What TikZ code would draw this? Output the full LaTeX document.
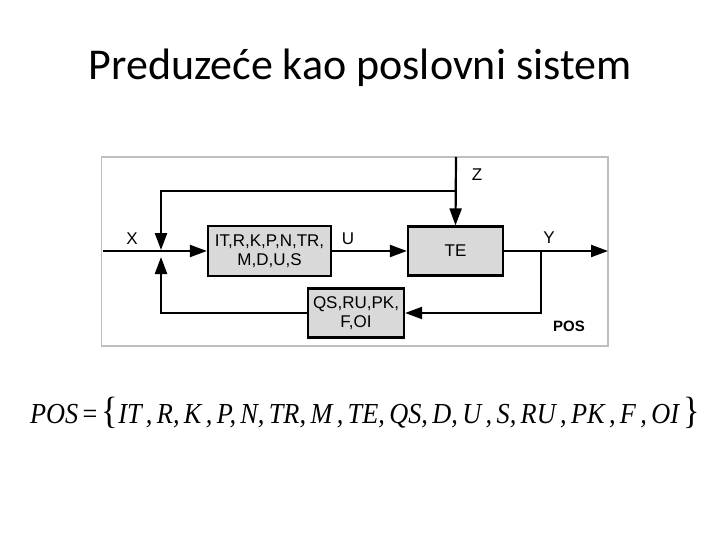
\documentclass[tikz,border=0pt]{standalone}
\usepackage{fontspec}
\usepackage{graphicx}
\setmainfont{Liberation Sans}
\newfontfamily\titlefont{Carlito}
\newfontfamily\formfont{Liberation Serif}
\usetikzlibrary{arrows.meta}
\definecolor{boxgray}{HTML}{D9D9D9}
\definecolor{framegray}{HTML}{BFBFBF}
\begin{document}
\begin{tikzpicture}[x=1pt,y=-1pt,
  blk/.style={draw=black,line width=2.2pt,fill=boxgray,inner sep=0pt,
    font=\fontsize{17}{19}\selectfont,align=center},
  ln/.style={line width=2.2pt},
  arr/.style={ln,-{Triangle[length=17pt,width=12pt]}},
  lbl/.style={font=\fontsize{17}{19}\selectfont,inner sep=0pt}]
\useasboundingbox (0,0) rectangle (720,540);
\fill[white] (0,0) rectangle (720,540);
% title
\node[font=\titlefont\fontsize{44}{48}\selectfont,inner sep=0pt] (title) at (360,68) {Preduzeće kao poslovni sistem};
% frame
\draw[framegray,line width=1.5pt] (101.5,157) rectangle (608,346);
% blocks
\node[blk,minimum width=123pt,minimum height=50pt] (b1) at (269.5,251) {IT,R,K,P,N,TR,\\M,D,U,S};
\node[blk,minimum width=95pt,minimum height=49pt] (te) at (455.5,251) {TE};
\node[blk,minimum width=96pt,minimum height=49pt] (qs) at (356,313) {QS,RU,PK,\\F,OI};
% coordinates
\coordinate (xin) at (103,251);
\coordinate (j) at (161,251);
\coordinate (jt) at (161,250);
\coordinate (jb) at (161,257);
\coordinate (ztop) at (456,157);
\coordinate (zj) at (456,191);
\coordinate (ybr) at (541,251);
\coordinate (yout) at (608,251);
% connectors
\draw[ln] (xin) -- (j);
\draw[arr] (j) -- (b1.west);
\draw[arr] (b1.east) -- (te.west);
\draw[arr] (te.east) -- (yout);
\draw[arr] (ztop) -- (te.north);
\draw[arr] (zj) -| (jt);
\draw[arr] (ybr) |- (qs.east);
\draw[arr] (qs.west) -| (jb);
% labels
\node[lbl] (lx) at (132,239) {X};
\node[lbl] (lu) at (348,239) {U};
\node[lbl] (ly) at (549,238) {Y};
\node[lbl] (lz) at (477,175) {Z};
\node[lbl,font=\fontsize{15}{17}\selectfont\bfseries] (lpos) at (569,326) {POS};
% formula
\node[inner sep=0pt] (form) at (365,413)
  {\resizebox{670pt}{\height}{\formfont\itshape\fontsize{29}{32}\selectfont POS\,{\upshape =}\,{\fontsize{38}{38}\selectfont\upshape\{}IT\,,\,R,\,K\,,\,P,\,N,\,TR,\,M\,,\,TE,\,QS,\,D,\,U\,,\,S,\,RU\,,\,PK\,,\,F\,,\,OI\,{\fontsize{38}{38}\selectfont\upshape\}}}};
\end{tikzpicture}
\end{document}
